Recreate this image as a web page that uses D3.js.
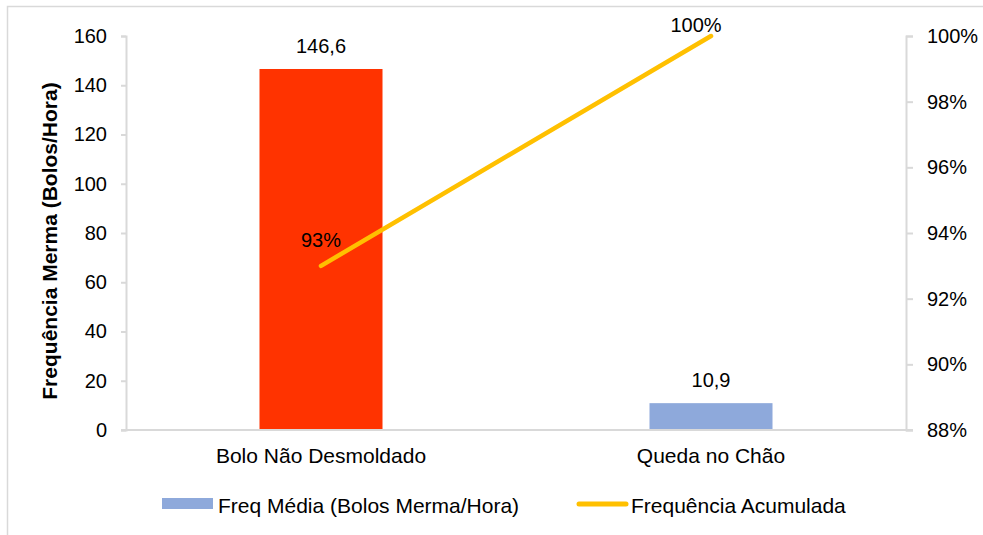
<!DOCTYPE html>
<html>
<head>
<meta charset="utf-8">
<script src="https://cdn.jsdelivr.net/npm/d3@7"></script>
<style>
  html, body { margin: 0; padding: 0; background: #fff; }
  svg { display: block; font-family: "Liberation Sans", Arial, sans-serif; }
</style>
</head>
<body>
<svg id="chart" width="983" height="535"></svg>
<script>
// Pareto data: losses per hour by cause, plus cumulative share
const categories = ["Bolo Não Desmoldado", "Queda no Chão"];
const freqValues = [146.6, 10.9];
const cumulativePct = [0.93, 1.00];
const freqTicks = [0, 20, 40, 60, 80, 100, 120, 140, 160];
const pctTicks = [0.88, 0.90, 0.92, 0.94, 0.96, 0.98, 1.00];
const barColors = ["#FF3300", "#8EA9DB"];
const seriesNames = ["Freq Média (Bolos Merma/Hora)", "Frequência Acumulada"];
const yTitle = "Frequência Merma (Bolos/Hora)";

const fmtNum = d3.format(".1f");
const comma = v => fmtNum(v).replace(".", ",");
const pct = d3.format(".0%");

const svg = d3.select("#chart");
const W = 983, H = 535;
const m = { left: 126, right: 906, top: 36, bottom: 430 };

// Outer chart frame
svg.append("rect")
  .attr("x", 7.5).attr("y", 6.5)
  .attr("width", W + 20).attr("height", H + 20)
  .attr("fill", "#fff").attr("stroke", "#d9d9d9").attr("stroke-width", 1.5);

const x = d3.scaleBand().domain(categories).range([m.left, m.right])
  .paddingInner(0.6846).paddingOuter(0.3423);
const yL = d3.scaleLinear().domain([0, 160]).range([m.bottom, m.top]);
const yR = d3.scaleLinear().domain([0.88, 1.0]).range([m.bottom, m.top]);
const xc = c => x(c) + x.bandwidth() / 2;

const axisColor = "#d9d9d9";
const textColor = "#000";

// Left axis
const gL = svg.append("g").attr("transform", `translate(${m.left},0)`)
  .call(d3.axisLeft(yL).tickValues(freqTicks).tickSize(5).tickPadding(14));
gL.select(".domain").attr("stroke", axisColor).attr("stroke-width", 2);
gL.selectAll(".tick line").attr("stroke", axisColor).attr("stroke-width", 2);
gL.selectAll(".tick text").attr("font-size", 20).attr("fill", textColor)
  .attr("font-family", "Liberation Sans, Arial, sans-serif");

// Right axis
const gR = svg.append("g").attr("transform", `translate(${m.right},0)`)
  .call(d3.axisRight(yR).tickValues(pctTicks).tickFormat(pct).tickSize(7).tickPadding(14));
gR.select(".domain").attr("stroke", axisColor).attr("stroke-width", 2);
gR.selectAll(".tick line").attr("stroke", axisColor).attr("stroke-width", 2);
gR.selectAll(".tick text").attr("font-size", 20).attr("fill", textColor)
  .attr("font-family", "Liberation Sans, Arial, sans-serif");

// Bars
svg.append("g").selectAll("rect").data(categories).join("rect")
  .attr("x", c => x(c))
  .attr("width", x.bandwidth())
  .attr("y", (c, i) => yL(freqValues[i]))
  .attr("height", (c, i) => yL(0) - yL(freqValues[i]))
  .attr("fill", (c, i) => barColors[i]);

// Category baseline
svg.append("line")
  .attr("x1", m.left - 5).attr("x2", m.right + 7)
  .attr("y1", m.bottom).attr("y2", m.bottom)
  .attr("stroke", axisColor).attr("stroke-width", 2);

// Bar value labels
svg.append("g").selectAll("text").data(categories).join("text")
  .attr("x", c => xc(c))
  .attr("y", (c, i) => yL(freqValues[i]) - 16)
  .attr("text-anchor", "middle").attr("font-size", 20).attr("fill", textColor)
  .text((c, i) => comma(freqValues[i]));

// Cumulative line
const line = d3.line().x(d => xc(d.c)).y(d => yR(d.v));
const pts = categories.map((c, i) => ({ c, v: cumulativePct[i] }));
svg.append("path").datum(pts)
  .attr("d", line).attr("fill", "none")
  .attr("stroke", "#FFC000").attr("stroke-width", 4.5).attr("stroke-linecap", "round");

// Cumulative labels
svg.append("g").selectAll("text").data(pts).join("text")
  .attr("x", (d, i) => xc(d.c) + (i === pts.length - 1 ? -15 : 0))
  .attr("y", (d, i) => i === pts.length - 1 ? yR(d.v) - 4 : yR(d.v) - 19)
  .attr("text-anchor", "middle").attr("font-size", 20).attr("fill", textColor)
  .text(d => pct(d.v));

// Category labels
svg.append("g").selectAll("text").data(categories).join("text")
  .attr("x", c => xc(c)).attr("y", 463)
  .attr("text-anchor", "middle").attr("font-size", 21).attr("fill", textColor)
  .text(c => c);

// Y axis title
svg.append("text")
  .attr("transform", `translate(57,241) rotate(-90)`)
  .attr("text-anchor", "middle").attr("font-size", 21).attr("font-weight", "bold")
  .attr("fill", textColor).text(yTitle);

// Legend
const lg = svg.append("g");
lg.append("rect").attr("x", 162).attr("y", 498).attr("width", 51).attr("height", 11).attr("fill", barColors[1]);
lg.append("text").attr("x", 218).attr("y", 513).attr("font-size", 21).attr("fill", textColor).text(seriesNames[0]);
lg.append("line").attr("x1", 579).attr("x2", 626).attr("y1", 504).attr("y2", 504)
  .attr("stroke", "#FFC000").attr("stroke-width", 5).attr("stroke-linecap", "round");
lg.append("text").attr("x", 631).attr("y", 513).attr("font-size", 21).attr("fill", textColor).text(seriesNames[1]);
</script>
</body>
</html>
